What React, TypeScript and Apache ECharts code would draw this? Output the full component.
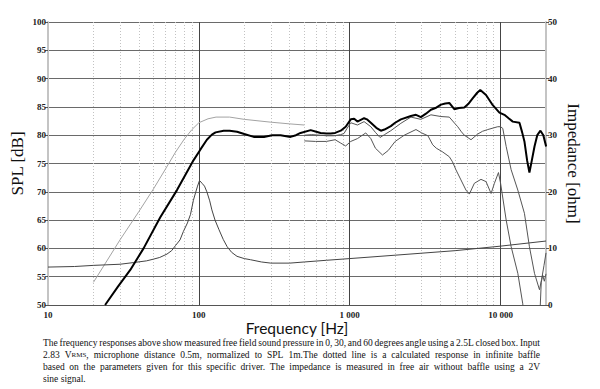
import React, { useEffect, useRef } from "react";
import * as echarts from "echarts";

// ---------- data ----------
const X_TICK_LABELS: Record<number, string> = { 10: "10", 100: "100", 1000: "1 000", 10000: "10 000" };
const MINOR_GRID_FREQS = [
  20, 30, 40, 50, 60, 70, 80, 90,
  200, 300, 400, 500, 600, 700, 800, 900,
  2000, 3000, 4000, 5000, 6000, 7000, 8000, 9000,
];

// 0 degrees (thick black), dB
const SPL_0DEG: [number, number][] = [
  [23.9, 50], [29, 53.2], [35.1, 56.2], [43, 60], [55.5, 65.5], [71.6, 70.3], [92.3, 75.6],
  [102, 77.4], [113, 79.2], [122, 80.1], [129, 80.5],
  [146, 80.8], [160, 80.8], [179, 80.6], [200, 80.2], [231, 79.7], [270, 79.7], [306, 80.0],
  [348, 80.0], [405, 79.7], [440, 80.0], [472, 80.4], [551, 80.9], [600, 80.6], [641, 80.4],
  [700, 80.3], [748, 80.3], [800, 80.4], [872, 80.8], [940, 81.5], [1016, 82.8], [1070, 82.9],
  [1125, 82.4], [1245, 83.0], [1300, 82.8], [1380, 82.2], [1500, 81.3], [1608, 80.8], [1700, 81.0],
  [1873, 81.6], [2000, 82.2], [2183, 82.8], [2543, 83.4], [2750, 83.6], [2963, 83.2], [3200, 83.8],
  [3453, 84.5], [3700, 84.8], [4024, 85.4], [4300, 85.6], [4571, 85.7], [4934, 84.6], [5300, 84.8],
  [5748, 84.9], [6100, 85.5], [6527, 86.5], [7000, 87.5], [7337, 88.0], [8008, 87.1], [8877, 85.3],
  [9823, 84.0], [10600, 83.6], [11300, 83.0], [12048, 82.4], [13340, 82.2], [13900, 80.5],
  [14390, 78.9], [15000, 75.5], [15530, 73.4], [16100, 75.5], [16780, 78.0], [17500, 80.0],
  [18380, 80.8], [19200, 80.0], [20040, 78.0],
];

// 30 degrees, dB
const SPL_30DEG: [number, number][] = [
  [500, 80.0], [560, 80.1], [641, 80.0], [700, 79.9], [787, 79.9], [870, 80.1], [916, 80.3],
  [960, 81.2], [1016, 82.2], [1125, 81.8], [1245, 82.4], [1380, 81.5], [1480, 80.5], [1588, 79.6],
  [1700, 80.1], [1873, 80.8], [2183, 82.1], [2543, 83.2], [2963, 82.8], [3453, 83.6], [4024, 83.3],
  [4571, 83.2], [5000, 82.0], [5200, 81.5], [5500, 80.6], [5748, 80.0], [6368, 79.2], [7050, 80.2],
  [7600, 80.7], [8228, 81.0], [9577, 81.5], [10000, 81.5], [10340, 81.2], [10890, 78.0],
  [11750, 73.9], [13010, 70.3], [14390, 66.2], [15530, 60.3], [16780, 55.6], [18100, 52.7],
  [18700, 54.5], [19400, 57.0], [20000, 59.2],
];

// 60 degrees, dB ('-' = leaves the plot below 50 dB)
const SPL_60DEG: [number, number | string][] = [
  [500, 79.0], [594, 78.9], [700, 78.9], [800, 79.2], [872, 78.6], [940, 78.1], [1016, 78.9],
  [1125, 79.4], [1277, 80.4], [1380, 79.4], [1480, 77.7], [1648, 76.5], [1800, 77.3], [2000, 78.9],
  [2300, 80.0], [2749, 81.0], [3000, 80.4], [3300, 79.9], [3550, 78.3], [3750, 77.7], [4100, 77.1],
  [4571, 76.2], [4800, 75.3], [5057, 73.9], [5460, 72.1], [5896, 70.3], [6209, 69.6], [6700, 71.5],
  [7413, 72.2], [8008, 71.8], [8650, 69.7], [9100, 71.5], [9680, 73.4], [10000, 71.5], [10890, 65.0],
  [11750, 60.3], [13010, 55.6], [14030, 50.2], [14300, 48.0], [16000, "-"], [18200, 48.0],
  [18600, 54.0], [19000, 55.3], [19500, 54.2], [20000, 55.5],
];

// calculated infinite-baffle response (light grey), dB
const SPL_CALC: [number, number][] = [
  [20, 54], [30, 61.5], [40, 66.5], [50, 70.5], [60, 74], [70, 77], [80, 79.3], [90, 81],
  [100, 82.2], [115, 82.9], [130, 83.2], [160, 83.2], [200, 82.8], [300, 82.3], [400, 82.0], [500, 81.8],
];

// impedance, ohm (right axis)
const IMPEDANCE: [number, number][] = [
  [10, 6.7], [15, 6.8], [20, 7.0], [30, 7.2], [37, 7.5], [45, 7.8], [50, 8.1], [55, 8.4], [61.5, 9.0],
  [66, 9.6], [70, 10.5], [75, 11.5], [79, 13.0], [84, 14.5], [88, 16.0], [92, 18.5], [95, 19.8],
  [98, 21.0], [101, 22.0], [105, 21.5], [109, 21.0], [113, 20.0], [118, 18.4], [122, 16.8],
  [128, 15.0], [136, 13.3], [145, 11.6], [154, 10.3], [165, 9.3], [179, 8.6], [200, 8.2],
  [220, 8.0], [260, 7.6], [300, 7.4], [400, 7.4], [500, 7.6], [700, 7.9], [1000, 8.2],
  [2000, 8.8], [5000, 9.6], [10000, 10.4], [20000, 11.3],
];

const CAPTION_LINES = [
  "The frequency responses above show measured free field sound pressure in 0, 30, and 60 degrees angle using a 2.5L closed box. Input",
  "2.83 V{s|RMS}, microphone distance 0.5m, normalized to SPL 1m.The dotted line is a calculated response in infinite baffle",
  "based on the parameters given for this specific driver. The impedance is measured in free air without baffle using a 2V",
  "sine signal.",
];

// ---------- styling ----------
const SERIF = '"Liberation Serif", "DejaVu Serif", serif';
const CAP_SIZE = 9.5;
const CAP_SMALL = 7;
const CAP_LEFT = 43;
const CAP_RIGHT = 540;
const CAP_TOP = 343;
const CAP_LH = 12;

function buildCaption(): any[] {
  const ctx = document.createElement("canvas").getContext("2d")!;
  const measure = (w: string) => {
    const m = w.match(/^(.*)\{s\|(.*)\}(.*)$/);
    ctx.font = `${CAP_SIZE}px ${SERIF}`;
    if (!m) return ctx.measureText(w).width;
    let width = ctx.measureText(m[1]).width + ctx.measureText(m[3]).width;
    ctx.font = `${CAP_SMALL}px ${SERIF}`;
    width += ctx.measureText(m[2]).width;
    return width;
  };
  ctx.font = `${CAP_SIZE}px ${SERIF}`;
  const space = ctx.measureText(" ").width;
  const out: any[] = [];
  CAPTION_LINES.forEach((line, i) => {
    const y = CAP_TOP + i * CAP_LH;
    const words = line.split(" ");
    const widths = words.map(measure);
    const total = widths.reduce((a, b) => a + b, 0);
    const justify = i < CAPTION_LINES.length - 1 && words.length > 1;
    let gap = justify ? (CAP_RIGHT - CAP_LEFT - total) / (words.length - 1) : space;
    gap = Math.max(gap, 0.8);
    let x = CAP_LEFT;
    words.forEach((w, j) => {
      out.push({
        type: "text",
        x,
        y,
        silent: true,
        style: {
          text: w,
          fontSize: CAP_SIZE,
          fontFamily: SERIF,
          fill: "#111",
          verticalAlign: "middle",
          rich: { s: { fontSize: CAP_SMALL, fontFamily: SERIF, fill: "#111" } },
        },
      });
      x += widths[j] + gap;
    });
  });
  return out;
}

export default function App() {
  const ref = useRef<HTMLDivElement>(null);
  useEffect(() => {
    if (!ref.current) return;
    const chart = echarts.init(ref.current, undefined, { renderer: "svg" });
    const tickLabel = { fontFamily: SERIF, fontWeight: "bold" as const, fontSize: 9, color: "#222" };
    chart.setOption({
      animation: false,
      backgroundColor: "#ffffff",
      grid: { left: 48, right: 54, top: 22, bottom: 84, containLabel: false },
      xAxis: {
        type: "log",
        logBase: 10,
        min: 10,
        max: 20000,
        name: "Frequency [Hz]",
        nameLocation: "middle",
        nameGap: 15,
        nameMoveOverlap: false,
        nameTextStyle: { fontFamily: "Lato, sans-serif", fontSize: 15.5, color: "#111" },
        axisLine: { show: true, lineStyle: { color: "#555", width: 1 } },
        axisTick: { show: false },
        axisLabel: {
          ...tickLabel,
          margin: 5,
          showMaxLabel: false,
          formatter: (v: number) => X_TICK_LABELS[Math.round(v)] ?? "",
        },
        splitLine: { show: true, showMinLine: false, showMaxLine: false, lineStyle: { color: "#444", width: 1 } },
      },
      yAxis: [
        {
          type: "value",
          min: 50,
          max: 100,
          interval: 5,
          position: "left",
          name: "SPL [dB]",
          nameLocation: "middle",
          nameGap: 22,
          nameMoveOverlap: false,
          nameTextStyle: { fontFamily: SERIF, fontSize: 17, color: "#111" },
          axisLine: { show: true, lineStyle: { color: "#c4c4c4", width: 2 } },
          axisTick: { show: true, length: 3, lineStyle: { color: "#555" } },
          axisLabel: { ...tickLabel, margin: 2 },
          splitLine: { show: true, lineStyle: { color: "#6a6a6a", width: 1 } },
        },
        {
          type: "value",
          min: 0,
          max: 50,
          interval: 10,
          position: "right",
          name: "Impedance [ohm]",
          nameLocation: "middle",
          nameGap: 19,
          nameMoveOverlap: false,
          nameRotate: -90,
          nameTextStyle: { fontFamily: SERIF, fontSize: 17, color: "#111" },
          axisLine: { show: true, lineStyle: { color: "#c4c4c4", width: 2 } },
          axisTick: { show: true, length: 3, lineStyle: { color: "#555" } },
          axisLabel: { ...tickLabel, margin: 2 },
          splitLine: { show: false },
        },
      ],
      graphic: buildCaption(),
      series: [
        {
          name: "calc",
          type: "line",
          data: SPL_CALC,
          symbol: "none",
          silent: true,
          z: 3,
          lineStyle: { color: "#a3a3a3", width: 1 },
          markLine: {
            silent: true,
            symbol: ["none", "none"],
            z: 1,
            label: { show: false },
            lineStyle: { color: "#c2c2c2", width: 1, type: [1, 2] },
            emphasis: { disabled: true },
            data: MINOR_GRID_FREQS.map((f) => ({ xAxis: f })),
          },
        },
        {
          name: "impedance",
          type: "line",
          yAxisIndex: 1,
          data: IMPEDANCE,
          symbol: "none",
          silent: true,
          z: 3,
          lineStyle: { color: "#444", width: 1 },
        },
        {
          name: "60",
          type: "line",
          data: SPL_60DEG,
          symbol: "none",
          silent: true,
          connectNulls: false,
          z: 3,
          lineStyle: { color: "#555", width: 1 },
        },
        {
          name: "30",
          type: "line",
          data: SPL_30DEG,
          symbol: "none",
          silent: true,
          z: 3,
          lineStyle: { color: "#555", width: 1 },
        },
        {
          name: "0",
          type: "line",
          data: SPL_0DEG,
          symbol: "none",
          silent: true,
          z: 4,
          lineStyle: { color: "#000", width: 2 },
        },
      ],
    });
    return () => chart.dispose();
  }, []);
  return (
    <div
      ref={ref}
      style={{ position: "fixed", left: 0, top: 0, width: 600, height: 389, background: "#fff" }}
    />
  );
}
